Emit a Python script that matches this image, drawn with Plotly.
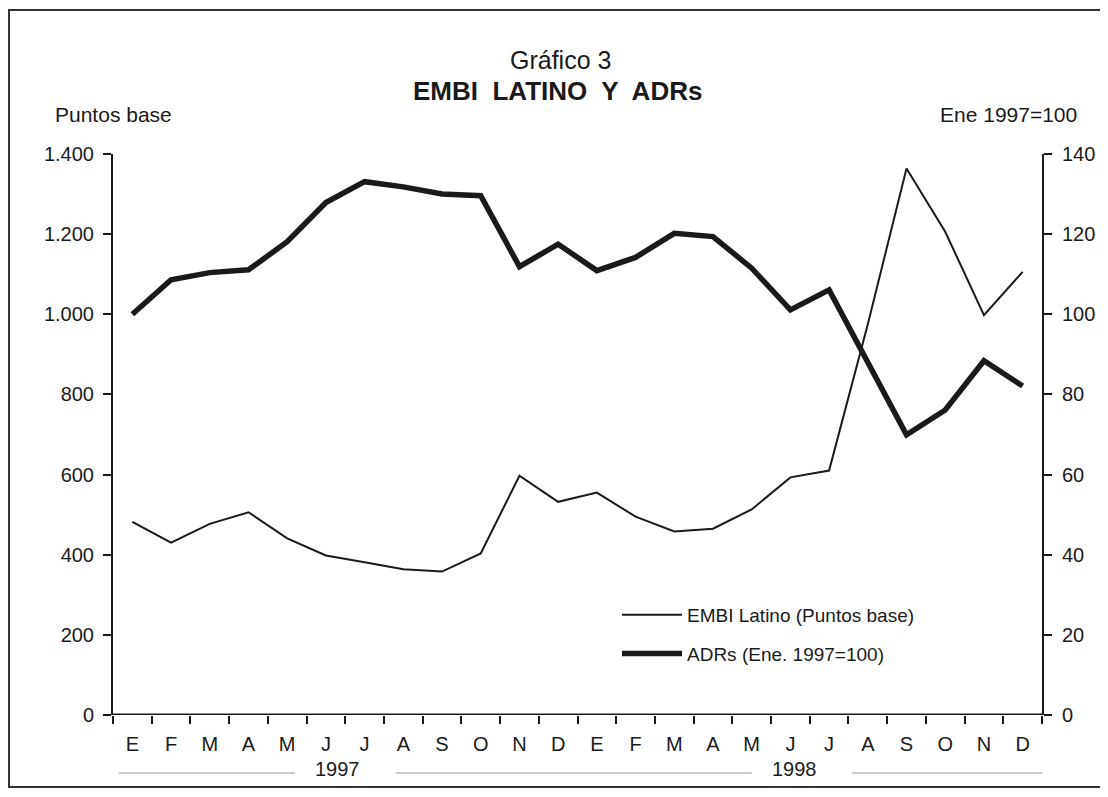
import plotly.graph_objects as go

months = ["E", "F", "M", "A", "M", "J", "J", "A", "S", "O", "N", "D",
          "E", "F", "M", "A", "M", "J", "J", "A", "S", "O", "N", "D"]
years = ["1997", "1998"]
embi = [482, 430, 477, 506, 441, 398, 381, 364, 358, 403, 597, 532,
        555, 495, 458, 465, 513, 593, 610, 975, 1364, 1206, 998, 1106]
adrs = [100, 108.6, 110.4, 111.1, 118.1, 127.9, 133.1, 131.8, 130.0, 129.6, 111.9, 117.5,
        110.9, 114.2, 120.2, 119.4, 111.5, 101.1, 106.1, 88.3, 69.9, 76.1, 88.4, 82.1]
left_ticks = [0, 200, 400, 600, 800, 1000, 1200, 1400]
right_ticks = [0, 20, 40, 60, 80, 100, 120, 140]

x = list(range(len(months)))
FONT = "Liberation Sans, Arial, sans-serif"
INK = "#1a1a1a"

fig = go.Figure()
fig.add_trace(go.Scatter(x=x, y=embi, mode="lines", name="EMBI Latino (Puntos base)",
                         line=dict(color=INK, width=2), yaxis="y", legendgroup="a"))
fig.add_trace(go.Scatter(x=x, y=adrs, mode="lines", name="ADRs (Ene. 1997=100)",
                         line=dict(color=INK, width=5.5), yaxis="y2", legendgroup="b"))

# page body has an 8px margin: work in page pixels, then compensate
OFF = 8
W, H = 1108 - OFF, 797 - 2 * OFF
PLOT_L, PLOT_R, PLOT_T, PLOT_B = 113, 1042, 154, 715  # page pixels
L, R, T = PLOT_L - OFF, (OFF + W) - PLOT_R, PLOT_T - OFF
B = (OFF + H) - PLOT_B
pw, ph = W - L - R, H - T - B

def px(xp):
    return (xp - OFF - L) / pw

def py(yp):
    return (H - B - (yp - OFF)) / ph

fig.update_layout(
    width=W, height=H,
    margin=dict(l=L, r=R, t=T, b=B, pad=0),
    paper_bgcolor="white", plot_bgcolor="white",
    separators=",.",
    font=dict(family=FONT, size=20, color=INK),
    showlegend=True,
    legend=dict(x=px(617), y=py(596), xanchor="left", yanchor="top",
                bgcolor="rgba(0,0,0,0)", font=dict(size=19, color=INK),
                tracegroupgap=11, itemwidth=60, traceorder="grouped"),
    xaxis=dict(range=[-0.5, len(months) - 0.5], tickmode="array", tickvals=x,
               ticktext=months, ticks="", showgrid=False, zeroline=False,
               showline=False, tickfont=dict(size=20), ticklabelstandoff=15,
               minor=dict(tickmode="array",
                          tickvals=[i - 0.5 for i in range(len(months) + 1)],
                          ticks="outside", ticklen=8, tickwidth=2, tickcolor=INK,
                          showgrid=False)),
    yaxis=dict(range=[0, 1400], tickmode="array", tickvals=left_ticks, tickformat=",d",
               ticks="outside", ticklen=8, tickwidth=2, tickcolor=INK,
               showline=True, linewidth=2, linecolor=INK, showgrid=False,
               zeroline=False, tickfont=dict(size=20), ticklabelstandoff=5),
    yaxis2=dict(range=[0, 140], tickmode="array", tickvals=right_ticks,
                overlaying="y", side="right", ticks="outside", ticklen=8,
                tickwidth=2, tickcolor=INK, showline=True, linewidth=2,
                linecolor=INK, showgrid=False, zeroline=False,
                tickfont=dict(size=20), ticklabelstandoff=6),
)

# x axis baseline at 0
fig.add_shape(type="line", xref="paper", yref="y", x0=0, x1=1, y0=0, y1=0,
              line=dict(color=INK, width=3))

# frame
fig.add_shape(type="rect", xref="paper", yref="paper",
              x0=px(9), x1=px(1105), y0=py(787), y1=py(10),
              line=dict(color="#333333", width=2), layer="below")

# titles
fig.add_annotation(text="Gráfico 3", xref="paper", yref="paper", x=px(560), y=py(60),
                   xanchor="center", yanchor="middle", showarrow=False,
                   font=dict(size=25, color=INK, family=FONT))
fig.add_annotation(text="<b>EMBI  LATINO  Y  ADRs</b>", xref="paper", yref="paper",
                   x=px(557), y=py(91), xanchor="center", yanchor="middle",
                   showarrow=False, font=dict(size=26, color=INK, family=FONT))
fig.add_annotation(text="Puntos base", xref="paper", yref="paper", x=px(53), y=py(114),
                   xanchor="left", yanchor="middle", showarrow=False,
                   font=dict(size=21, color=INK, family=FONT))
fig.add_annotation(text="Ene 1997=100", xref="paper", yref="paper", x=px(1079), y=py(114),
                   xanchor="right", yanchor="middle", showarrow=False,
                   font=dict(size=21, color=INK, family=FONT))

# year labels with rules
year_centers = [5.3, 17.1]
for yr, xc in zip(years, year_centers):
    fig.add_annotation(text=yr, xref="x", yref="paper", x=xc, y=py(769),
                       xanchor="center", yanchor="middle", showarrow=False,
                       font=dict(size=20, color=INK, family=FONT))
for x0, x1 in [(-0.35, 4.2), (6.8, 16.0), (18.6, 23.5)]:
    fig.add_shape(type="line", xref="x", yref="paper", x0=x0, x1=x1,
                  y0=py(773), y1=py(773), line=dict(color="#9a9a9a", width=1))

fig.write_html("out.html")
